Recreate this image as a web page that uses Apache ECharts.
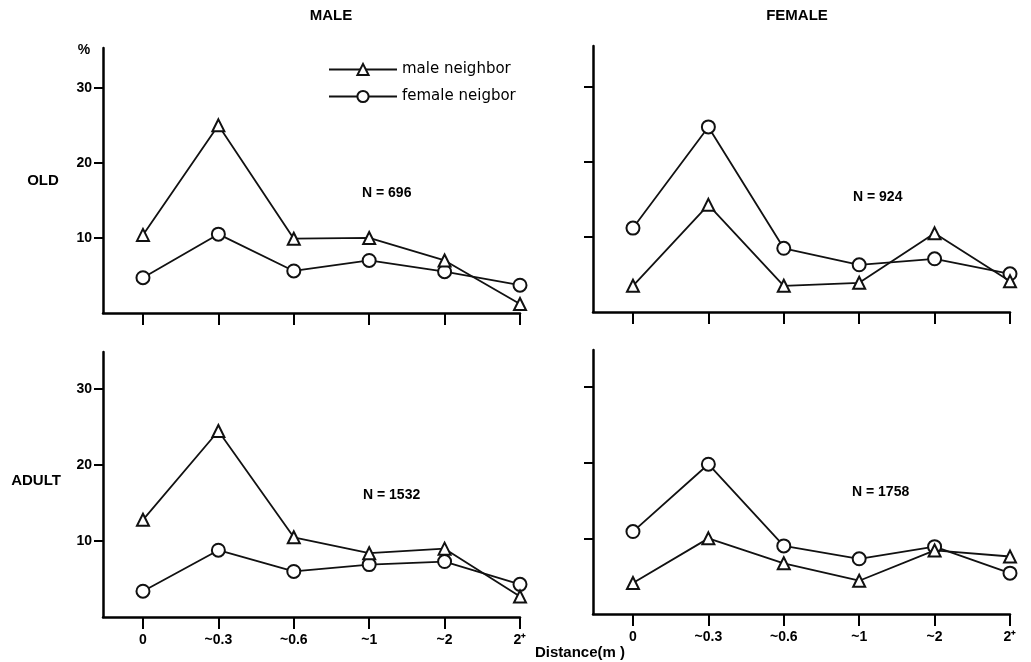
<!DOCTYPE html>
<html>
<head>
<meta charset="utf-8">
<script src="https://cdn.jsdelivr.net/npm/echarts@6/dist/echarts.min.js"></script>
<style>html,body{margin:0;padding:0;background:#fff;}#c{width:1031px;height:662px;}</style>
</head>
<body>
<div id="c"></div>
<script>
const categories = ['0', '~0.3', '~0.6', '~1', '~2', '2⁺'];
const oldMale_maleNb = [10.4, 25.0, 9.9, 10.0, 7.0, 1.2];
const oldMale_femaleNb = [4.7, 10.5, 5.6, 7.0, 5.5, 3.7];
const oldFemale_maleNb = [3.5, 14.3, 3.5, 3.9, 10.5, 4.1];
const oldFemale_femaleNb = [11.2, 24.7, 8.5, 6.3, 7.1, 5.1];
const adultMale_maleNb = [12.8, 24.5, 10.5, 8.4, 9.0, 2.7];
const adultMale_femaleNb = [3.4, 8.8, 6.0, 6.9, 7.3, 4.3];
const adultFemale_maleNb = [4.1, 10.0, 6.7, 4.4, 8.4, 7.6];
const adultFemale_femaleNb = [10.9, 19.8, 9.0, 7.3, 8.9, 5.4];
const nValues = ['696', '924', '1532', '1758'];
const yTickValues = [10, 20, 30];
const seriesNames = ['male neighbor', 'female neigbor'];

const FONT = 'Liberation Sans, Arial, sans-serif';
const chart = echarts.init(document.getElementById('c'));

const grids = [
  {left: 103, top: 48, width: 417, height: 265},
  {left: 593, top: 46, width: 417, height: 266},
  {left: 103, top: 352, width: 417, height: 265},
  {left: 593, top: 350, width: 417, height: 264}
];
const yMax = [35.3, 35.5, 34.9, 34.9];
const xIdx = categories.map((c, i) => i);

const xAxes = grids.map((g, i) => ({
  type: 'value', gridIndex: i, min: -0.53, max: 5,
  axisLine: {show: true, onZero: false, lineStyle: {color: '#000', width: 2.5}},
  axisTick: {show: true, customValues: xIdx, length: 12, inside: false, lineStyle: {color: '#000', width: 2}},
  axisLabel: {show: i >= 2, customValues: xIdx, margin: 16,
    formatter: v => categories[Math.round(v)] || '',
    color: '#000', fontSize: 14, fontWeight: 'bold', fontFamily: FONT},
  splitLine: {show: false}
}));
const yAxes = grids.map((g, i) => ({
  type: 'value', gridIndex: i, min: 0, max: yMax[i],
  axisLine: {show: true, onZero: false, lineStyle: {color: '#000', width: 2.5}},
  axisTick: {show: true, customValues: yTickValues, length: 9, lineStyle: {color: '#000', width: 2}},
  axisLabel: {show: i % 2 === 0, customValues: yTickValues, margin: 11,
    color: '#000', fontSize: 14, fontWeight: 'bold', fontFamily: FONT},
  splitLine: {show: false}
}));

function mk(name, arr, gi) {
  const tri = name === seriesNames[0];
  return {
    name: name, type: 'line', xAxisIndex: gi, yAxisIndex: gi,
    data: arr.map((v, i) => [xIdx[i], v]),
    symbol: tri ? 'triangle' : 'circle',
    symbolSize: tri ? 12 : 13,
    showAllSymbol: true,
    lineStyle: {color: '#111', width: 1.8},
    itemStyle: {color: '#fff', borderColor: '#111', borderWidth: 2},
    emphasis: {disabled: true},
    animation: false, z: tri ? 3 : 2
  };
}

const series = [
  mk(seriesNames[0], oldMale_maleNb, 0), mk(seriesNames[1], oldMale_femaleNb, 0),
  mk(seriesNames[0], oldFemale_maleNb, 1), mk(seriesNames[1], oldFemale_femaleNb, 1),
  mk(seriesNames[0], adultMale_maleNb, 2), mk(seriesNames[1], adultMale_femaleNb, 2),
  mk(seriesNames[0], adultFemale_maleNb, 3), mk(seriesNames[1], adultFemale_femaleNb, 3)
];

function txt(text, x, y, size, weight, align) {
  return {type: 'text', x: x, y: y, silent: true,
    style: {text: text, fill: '#000', fontSize: size, fontWeight: weight || 'normal',
      fontFamily: FONT, align: align || 'left', verticalAlign: 'middle',
      textAlign: align || 'left', textVerticalAlign: 'middle'}};
}

const nPos = [[362, 193], [853, 197], [363, 495], [852, 492]];

chart.setOption({
  animation: false,
  backgroundColor: '#fff',
  grid: grids,
  xAxis: xAxes,
  yAxis: yAxes,
  series: series,
  legend: {
    orient: 'vertical', left: 323, top: 57, itemWidth: 68, itemHeight: 14, itemGap: 12,
    data: seriesNames, selectedMode: false,
    textStyle: {color: '#000', fontSize: 15, fontFamily: 'DejaVu Sans, sans-serif'}
  },
  graphic: [
    txt('MALE', 331, 16, 15, 'bold', 'center'),
    txt('FEMALE', 797, 16, 15, 'bold', 'center'),
    txt('%', 84, 50, 14, 'bold', 'center'),
    txt('OLD', 43, 181, 15, 'bold', 'center'),
    txt('ADULT', 36, 481, 15, 'bold', 'center'),
    txt('Distance(m )', 580, 653, 15, 'bold', 'center')
  ].concat(nValues.map((n, i) => txt('N = ' + n, nPos[i][0], nPos[i][1], 14, 'bold', 'left')))
});
</script>
</body>
</html>
